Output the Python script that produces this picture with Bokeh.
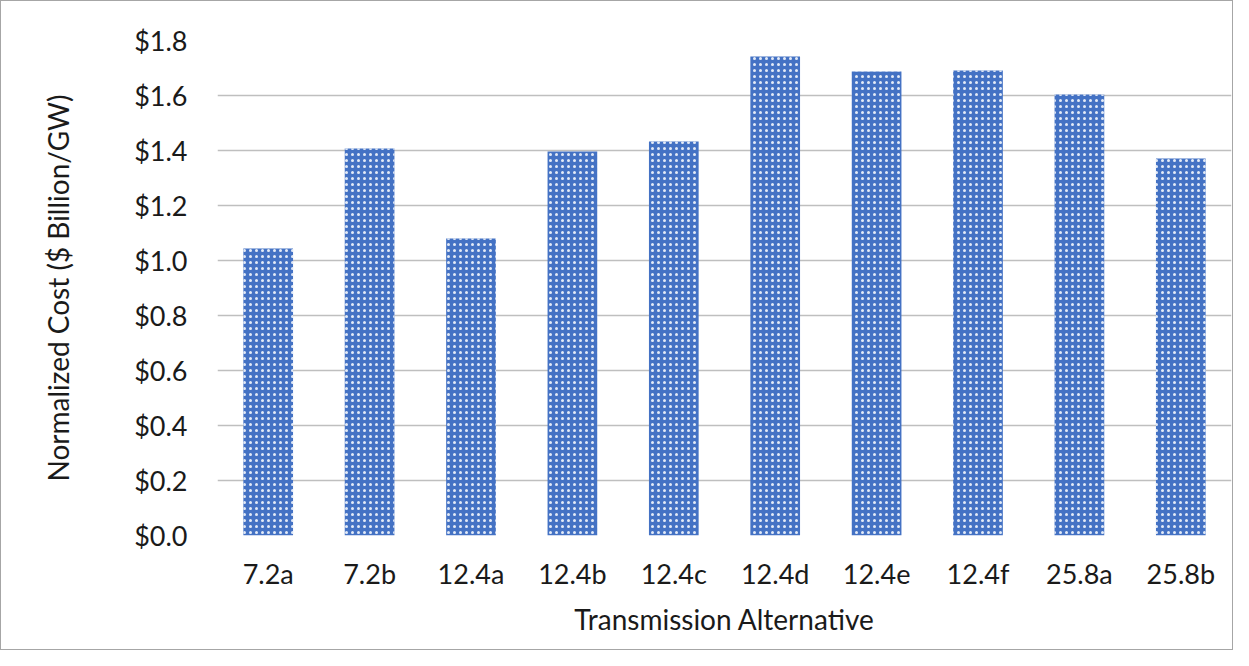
from bokeh.plotting import figure
from bokeh.models import Range1d, NumeralTickFormatter, FixedTicker
from bokeh.embed import file_html
from bokeh.resources import INLINE

categories = ["7.2a", "7.2b", "12.4a", "12.4b", "12.4c", "12.4d", "12.4e", "12.4f", "25.8a", "25.8b"]
costs = [1.044, 1.407, 1.08, 1.396, 1.433, 1.742, 1.687, 1.691, 1.604, 1.371]
y_ticks = [0.0, 0.2, 0.4, 0.6, 0.8, 1.0, 1.2, 1.4, 1.6, 1.8]

FONT = "Lato"

p = figure(x_range=categories, y_range=Range1d(0, 1.8),
           width=1233, height=650,
           min_border_left=216, min_border_top=39, min_border_right=3, min_border_bottom=116,
           output_backend="svg", toolbar_location=None)
p.styles = {"border": "1px solid #a6a6a6"}

p.vbar(x=categories, top=costs, width=0.49, fill_color="#4472C4", line_color=None,
       hatch_pattern="dot", hatch_color="white", hatch_scale=6, hatch_weight=1.6, hatch_alpha=0.85)

p.outline_line_color = None
p.xgrid.grid_line_color = None
p.ygrid.grid_line_color = "#bfbfbf"
p.ygrid.grid_line_width = 1.5
p.yaxis.ticker = FixedTicker(ticks=y_ticks)
p.yaxis.formatter = NumeralTickFormatter(format="$0.0")

for ax in (p.xaxis[0], p.yaxis[0]):
    ax.axis_line_color = None
    ax.major_tick_line_color = None
    ax.minor_tick_line_color = None
    ax.major_label_text_font = FONT
    ax.major_label_text_font_size = "27px"
    ax.major_label_text_color = "#1a1a1a"
    ax.axis_label_text_font = FONT
    ax.axis_label_text_font_size = "28px"
    ax.axis_label_text_font_style = "normal"
    ax.axis_label_text_color = "#1a1a1a"

p.xaxis.axis_label = "Transmission Alternative"
p.yaxis.axis_label = "Normalized Cost ($ Billion/GW)"
p.xaxis.major_label_standoff = 15
p.xaxis.axis_label_standoff = 9
p.yaxis.major_label_standoff = 24
p.yaxis.axis_label_standoff = 56

open("out.html", "w").write(file_html(p, INLINE))
